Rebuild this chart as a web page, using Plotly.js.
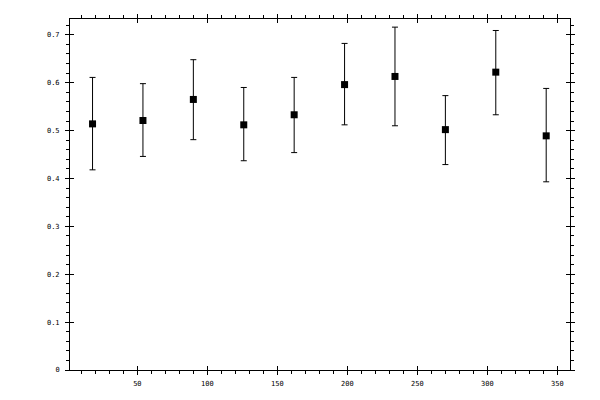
<!DOCTYPE html>
<html>
<head>
<meta charset="utf-8">
<script src="https://cdn.plot.ly/plotly-3.0.1.min.js"></script>
<style>html,body{margin:0;padding:0;background:#fff;}#chart{width:600px;height:400px;}</style>
</head>
<body>
<div id="chart"></div>
<script>
var xValues = [18, 54, 90, 126, 162, 198, 234, 270, 306, 342];
var yValues = [0.514, 0.521, 0.565, 0.512, 0.533, 0.596, 0.613, 0.502, 0.622, 0.489];
var errPlus = [0.097, 0.077, 0.083, 0.078, 0.078, 0.086, 0.103, 0.071, 0.087, 0.099];
var errMinus = [0.096, 0.075, 0.084, 0.075, 0.079, 0.084, 0.103, 0.073, 0.089, 0.096];

var tickFont = {family: 'DejaVu Sans Mono', size: 7, color: '#000'};

var trace = {
  x: xValues, y: yValues, type: 'scatter', mode: 'markers',
  marker: {symbol: 'square', size: 7, color: '#000'},
  error_y: {type: 'data', symmetric: false, array: errPlus, arrayminus: errMinus,
            color: '#000', thickness: 1, width: 3},
  showlegend: false, hoverinfo: 'none'
};
var ghost = {x: [], y: [], xaxis: 'x2', yaxis: 'y2', type: 'scatter', showlegend: false};

var xr = [1.9, 359];
var yr = [0, 0.733];

var layout = {
  width: 600, height: 400,
  margin: {l: 70, r: 30, t: 19, b: 30},
  paper_bgcolor: '#fff', plot_bgcolor: '#fff',
  xaxis: {range: xr, tick0: 0, dtick: 50, ticks: 'outside', ticklen: 4, tickwidth: 1, tickcolor: '#000',
          minor: {dtick: 10, ticks: 'outside', ticklen: 3, tickwidth: 1, tickcolor: '#000'},
          showline: true, linecolor: '#000', linewidth: 1, mirror: 'ticks', showgrid: false, zeroline: false,
          tickfont: tickFont, ticklabelstandoff: 3},
  yaxis: {range: yr, tick0: 0, dtick: 0.1, ticks: 'outside', ticklen: 4, tickwidth: 1, tickcolor: '#000',
          minor: {dtick: 0.02, ticks: 'outside', ticklen: 3, tickwidth: 1, tickcolor: '#000'},
          showline: true, linecolor: '#000', linewidth: 1, mirror: 'ticks', showgrid: false, zeroline: false,
          tickfont: tickFont, ticklabelstandoff: 4},
  xaxis2: {range: xr, overlaying: 'x', tick0: 0, dtick: 50, ticks: 'inside', ticklen: 4, tickwidth: 1, tickcolor: '#000',
           mirror: 'ticks', showticklabels: false, showgrid: false, zeroline: false, showline: false},
  yaxis2: {range: yr, overlaying: 'y', tick0: 0, dtick: 0.1, ticks: 'inside', ticklen: 4, tickwidth: 1, tickcolor: '#000',
           mirror: 'ticks', showticklabels: false, showgrid: false, zeroline: false, showline: false}
};

Plotly.newPlot('chart', [trace, ghost], layout, {displayModeBar: false, staticPlot: true});
</script>
</body>
</html>
